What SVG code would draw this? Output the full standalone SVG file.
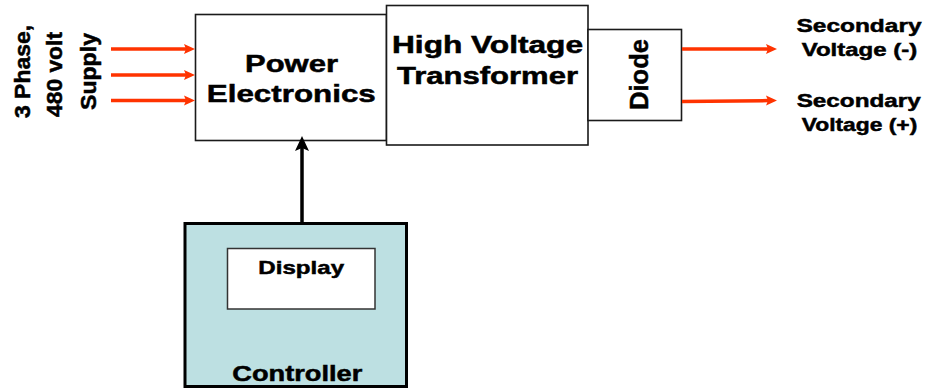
<svg xmlns="http://www.w3.org/2000/svg" width="927" height="389" viewBox="0 0 927 389">
<style>
.box{fill:#fff;stroke:#1a1a1a;stroke-width:1.6}
.t{font-family:"Liberation Sans",Arial,sans-serif;font-weight:bold;fill:#000;stroke:#000;stroke-width:0.5;text-anchor:middle}
.red{stroke:#ff3300;stroke-width:3.5;fill:none}
.blk{stroke:#000;stroke-width:3.5;fill:none}
</style>
<defs>
<marker id="ra" markerUnits="userSpaceOnUse" markerWidth="12" markerHeight="11" refX="2" refY="5" orient="auto" overflow="visible">
<path d="M0,0 L11,5 L0,10 L2,5 Z" fill="#ff3300"/>
</marker>
<marker id="ba" markerUnits="userSpaceOnUse" markerWidth="15" markerHeight="15" refX="3" refY="7" orient="auto" overflow="visible">
<path d="M0,0 L15,7 L0,14 L3,7 Z" fill="#000"/>
</marker>
</defs>
<g id="supply-label">
<text class="t" font-size="22" transform="translate(29.5,71.5) rotate(-90)" textLength="93" lengthAdjust="spacingAndGlyphs">3 Phase,</text>
<text class="t" font-size="22" transform="translate(62,74.5) rotate(-90)" textLength="85" lengthAdjust="spacingAndGlyphs">480 volt</text>
<text class="t" font-size="22" transform="translate(95.5,71.5) rotate(-90)" textLength="77" lengthAdjust="spacingAndGlyphs">Supply</text>
</g>
<g id="power-electronics">
<rect class="box" x="195.5" y="14.5" width="191" height="126"/>
<text class="t" font-size="24" x="291.5" y="71.7" textLength="93" lengthAdjust="spacingAndGlyphs">Power</text>
<text class="t" font-size="24" x="291.3" y="101.7" textLength="169" lengthAdjust="spacingAndGlyphs">Electronics</text>
</g>
<g id="hv-transformer">
<rect class="box" x="386.5" y="5.5" width="201.5" height="139.5"/>
<text class="t" font-size="23" x="487.5" y="53.3" textLength="191" lengthAdjust="spacingAndGlyphs">High Voltage</text>
<text class="t" font-size="23" x="487.5" y="84" textLength="181" lengthAdjust="spacingAndGlyphs">Transformer</text>
</g>
<g id="diode">
<rect class="box" x="588" y="29.5" width="93.5" height="91"/>
<text class="t" font-size="26" transform="translate(648,74.5) rotate(-90)" textLength="71" lengthAdjust="spacingAndGlyphs">Diode</text>
</g>
<g id="secondary-neg">
<text class="t" font-size="19" x="859" y="32" textLength="125" lengthAdjust="spacingAndGlyphs">Secondary</text>
<text class="t" font-size="19" x="859.5" y="56" textLength="115.6" lengthAdjust="spacingAndGlyphs">Voltage (-)</text>
</g>
<g id="secondary-pos">
<text class="t" font-size="19" x="858.7" y="107.3" textLength="124" lengthAdjust="spacingAndGlyphs">Secondary</text>
<text class="t" font-size="19" x="859.5" y="130.7" textLength="115.6" lengthAdjust="spacingAndGlyphs">Voltage (+)</text>
</g>
<g id="controller">
<rect x="185" y="223.5" width="221.5" height="163" fill="#bde0e2" stroke="#000" stroke-width="3"/>
<text class="t" font-size="22" x="297.3" y="381" textLength="130" lengthAdjust="spacingAndGlyphs">Controller</text>
</g>
<g id="display">
<rect x="227.5" y="248.5" width="147.5" height="60.5" fill="#fff" stroke="#333" stroke-width="1.5"/>
<text class="t" font-size="19" x="301.2" y="274" textLength="85.7" lengthAdjust="spacingAndGlyphs">Display</text>
</g>
<g id="connectors">
<line class="red" x1="111" y1="49" x2="186" y2="49" marker-end="url(#ra)"/>
<line class="red" x1="111" y1="75" x2="186" y2="75" marker-end="url(#ra)"/>
<line class="red" x1="111" y1="100.5" x2="186" y2="100.5" marker-end="url(#ra)"/>
<line class="red" x1="682" y1="49" x2="768" y2="49" marker-end="url(#ra)"/>
<line class="red" x1="682" y1="101.5" x2="768" y2="100.6" marker-end="url(#ra)"/>
<line class="blk" x1="302" y1="223" x2="302" y2="148" marker-end="url(#ba)"/>
</g>
</svg>
